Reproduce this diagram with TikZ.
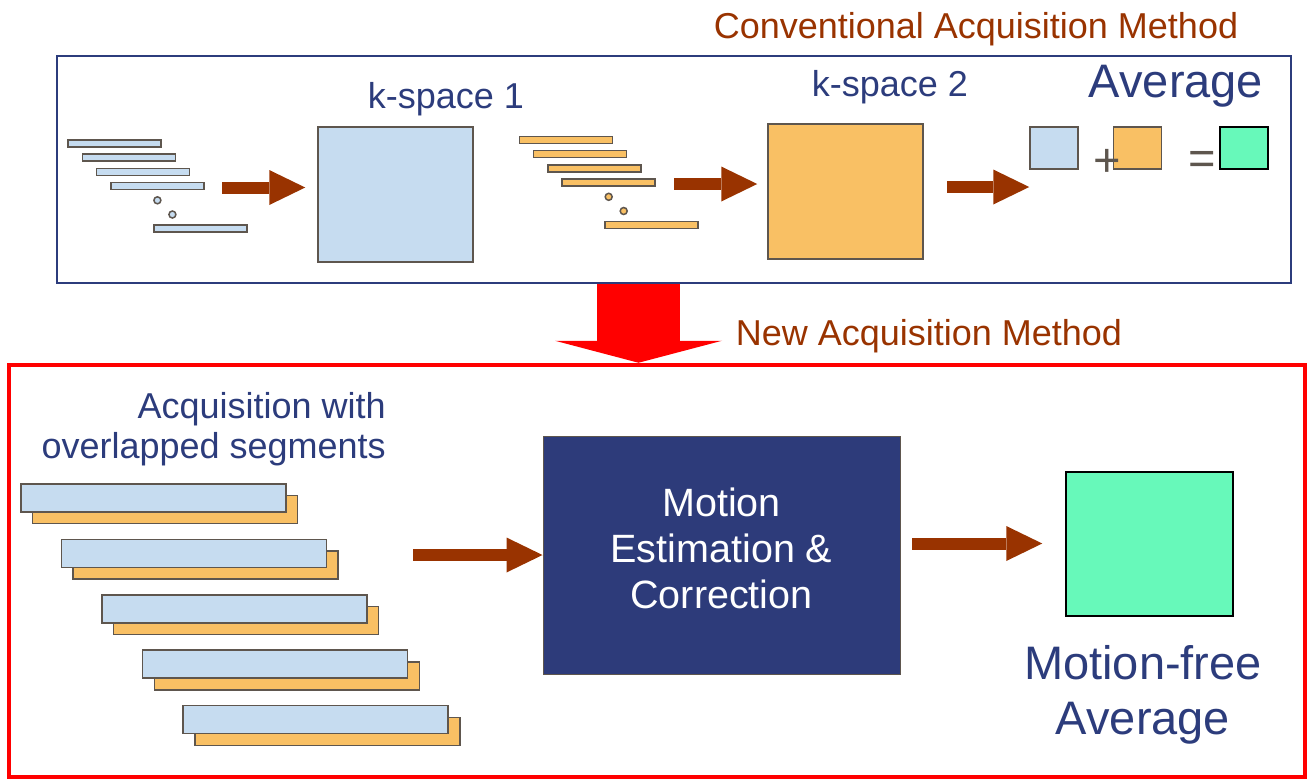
\documentclass[tikz,border=0pt]{standalone}
\usepackage{fontspec}
\setmainfont{Liberation Sans}
\usepackage{xcolor}
\usepackage{tikz}
\usetikzlibrary{arrows.meta, positioning}
\definecolor{navy}{RGB}{44,60,124}
\definecolor{mecfill}{RGB}{45,59,122}
\definecolor{rust}{RGB}{153,51,0}
\definecolor{kblue}{RGB}{198,220,240}
\definecolor{korange}{RGB}{249,192,100}
\definecolor{kgreen}{RGB}{103,249,186}
\definecolor{edge}{RGB}{94,86,78}
\tikzstyle{fatarrow} = [line width=12pt, draw=rust, -{Triangle[length=36pt, width=35pt, line width=0pt]}]
\tikzstyle{redarrow} = [line width=83pt, draw=red, -{Triangle[length=22pt, width=167pt, line width=0pt]}]
\tikzstyle{seg} = [rectangle, draw=edge, line width=1.5pt, minimum width=93pt, minimum height=7pt, inner sep=0pt]
\tikzstyle{gapdot} = [circle, draw=edge, line width=1.5pt, minimum size=7pt, inner sep=0pt]
\tikzstyle{wideseg} = [rectangle, draw=edge, line width=1.5pt, minimum width=265pt, minimum height=28pt, inner sep=0pt]
\tikzstyle{kspace} = [rectangle, draw=edge, line width=1.5pt, minimum width=155pt, minimum height=135pt, inner sep=0pt]
\tikzstyle{tile} = [rectangle, draw=edge, line width=1.5pt, minimum width=48pt, minimum height=42pt, inner sep=0pt]
\tikzstyle{navytext} = [text=navy, font=\fontsize{36}{40}\selectfont, inner sep=0pt]
\tikzstyle{rusttext} = [text=rust, font=\fontsize{36}{40}\selectfont, inner sep=0pt]
\tikzstyle{bigtext} = [text=navy, font=\fontsize{47}{55}\selectfont, inner sep=0pt]
\tikzstyle{optext} = [text=edge, font=\fontsize{47}{55}\selectfont, inner sep=0pt]
\tikzset{every node/.style={align=center}}

\begin{document}
\begin{tikzpicture}[x=1pt, y=-1pt, node distance=14.2pt]
    \useasboundingbox (0,0) rectangle (1310,780);

    % conventional method
    \node (convtitle) [rusttext, anchor=base] at (976,38) {Conventional Acquisition Method};
    \node (conv) [draw=navy, line width=1.5pt, minimum width=1234pt, minimum height=227pt] at (674,169.5) {};

    \node (b1) [seg, fill=kblue] at (114.5,143.5) {};
    \node (b2) [seg, fill=kblue, below of=b1, xshift=14.3pt] {};
    \node (b3) [seg, fill=kblue, below of=b2, xshift=14.3pt] {};
    \node (b4) [seg, fill=kblue, below of=b3, xshift=14.3pt] {};
    \node (bd1) [gapdot, fill=kblue, below of=b4] {};
    \node (bd2) [gapdot, fill=kblue, below of=bd1, xshift=15pt] {};
    \node (b5) [seg, fill=kblue, below of=bd2, xshift=28pt] {};
    \node (ksp1) [kspace, fill=kblue] at (395.5,194.5) {};
    \node (ksp1txt) [navytext, anchor=base] at (446,108) {k-space 1};

    \node (o1) [seg, fill=korange] at (565.8,140) {};
    \node (o2) [seg, fill=korange, below of=o1, xshift=14.3pt] {};
    \node (o3) [seg, fill=korange, below of=o2, xshift=14.3pt] {};
    \node (o4) [seg, fill=korange, below of=o3, xshift=14.3pt] {};
    \node (od1) [gapdot, fill=korange, below of=o4] {};
    \node (od2) [gapdot, fill=korange, below of=od1, xshift=15pt] {};
    \node (o5) [seg, fill=korange, below of=od2, xshift=28pt] {};
    \node (ksp2) [kspace, fill=korange] at (845.5,191.5) {};
    \node (ksp2txt) [navytext, anchor=base] at (890,96) {k-space 2};

    \node (avgtxt) [bigtext, anchor=base] at (1176,97) {Average};
    \node (avg1) [tile, fill=kblue] at (1054,148) {};
    \node (avg2) [tile, fill=korange] at (1137.5,148) {};
    \node (avg3) [tile, fill=kgreen, draw=black] at (1244,148) {};
    \node (plus) [optext] at (1107,163) {+};
    \node (equal) [optext] at (1202,163) {=};

    \coordinate (a1s) at (222,187.5);
    \coordinate (a2s) at (674,184);
    \coordinate (a3s) at (947,187);

    % new method
    \node (newtitle) [rusttext, anchor=base] at (929,345) {New Acquisition Method};
    \node (newbox) [draw=red, line width=4.5pt, minimum width=1296pt, minimum height=412pt] at (657,571) {};
    \node (segtxt) [navytext, align=right, anchor=north east] at (386,392) {Acquisition with\\overlapped segments};

    \node (q1) [wideseg, fill=korange] at (165,509.7) {};
    \node (p1) [wideseg, fill=kblue] at (153.3,498) {};
    \node (q2) [wideseg, fill=korange] at (205.6,565.1) {};
    \node (p2) [wideseg, fill=kblue] at (193.9,553.4) {};
    \node (q3) [wideseg, fill=korange] at (246.2,620.5) {};
    \node (p3) [wideseg, fill=kblue] at (234.5,608.8) {};
    \node (q4) [wideseg, fill=korange] at (286.8,675.9) {};
    \node (p4) [wideseg, fill=kblue] at (275.1,664.2) {};
    \node (q5) [wideseg, fill=korange] at (327.4,731.3) {};
    \node (p5) [wideseg, fill=kblue] at (315.7,719.6) {};

    \node (mec) [rectangle, fill=mecfill, draw=edge, line width=1pt, minimum width=357pt, minimum height=238pt,
                 text=white, font=\fontsize{39.5}{46}\selectfont, text depth=13pt] at (721.5,555) {Motion\\Estimation \&\\Correction};
    \node (mfree) [rectangle, fill=kgreen, draw=black, line width=1.5pt, minimum width=167pt, minimum height=144pt] at (1149.5,544) {};
    \node (mfreetxt) [bigtext, below=28pt of mfree, xshift=-6.5pt] {Motion-free\\Average};

    \coordinate (a4s) at (413,555);
    \coordinate (a5s) at (912,543.5);

    \draw [fatarrow, shorten >=12pt] (a1s) -- (a1s -| ksp1.west);
    \draw [fatarrow, shorten >=10pt] (a2s) -- (a2s -| ksp2.west);
    \draw [fatarrow] (a3s) -- (a3s -| avg1.west);
    \draw [redarrow] ([xshift=-35.5pt]conv.south) -- ([xshift=-18.5pt]newbox.north);
    \draw [fatarrow] (a4s) -- (a4s -| mec.west);
    \draw [fatarrow, shorten >=23pt] (a5s) -- (a5s -| mfree.west);
\end{tikzpicture}
\end{document}
